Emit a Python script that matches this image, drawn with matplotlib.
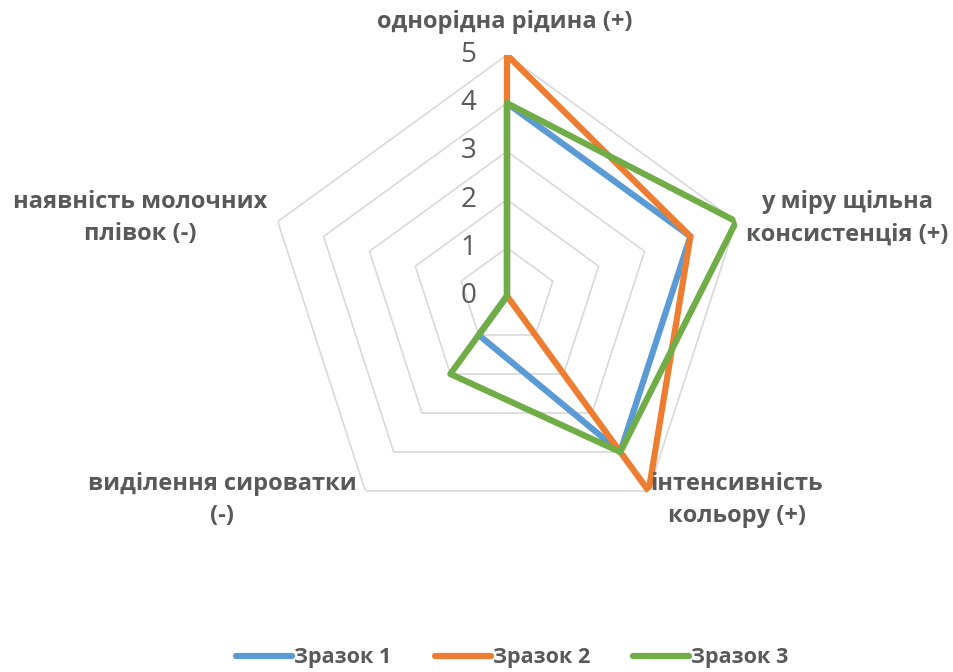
import numpy as np
import matplotlib
matplotlib.use("Agg")
from matplotlib import pyplot as plt

categories = [
    "однорідна рідина (+)",
    "у міру щільна\nконсистенція (+)",
    "інтенсивність\nкольору (+)",
    "виділення сироватки\n(-)",
    "наявність молочних\nплівок (-)",
]
series_names = ["Зразок 1", "Зразок 2", "Зразок 3"]
sample1 = [4, 4, 4, 1, 0]
sample2 = [5, 4, 5, 0, 0]
sample3 = [4, 5, 4, 2, 0]
r_ticks = [0, 1, 2, 3, 4, 5]

colors = ["#5B9BD5", "#ED7D31", "#70AD47"]
text_color = "#595959"
grid_color = "#D9D9D9"

plt.rcParams["font.family"] = ["Open Sans", "DejaVu Sans"]

W, H = 954, 672
cx, cy, R = 507, 296, 241

fig = plt.figure(figsize=(W / 100, H / 100), dpi=100)
ax = fig.add_axes([(cx - R) / W, (H - cy - R) / H, 2 * R / W, 2 * R / H],
                  projection="polar")
ax.set_theta_offset(np.pi / 2)
ax.set_theta_direction(-1)
ax.set_ylim(0, r_ticks[-1])
ax.grid(False)
ax.spines["polar"].set_visible(False)
ax.set_xticks([])
ax.set_yticks([])
ax.patch.set_alpha(0)

n = len(categories)
angles = np.linspace(0, 2 * np.pi, n, endpoint=False)
closed = np.append(angles, angles[0])

# pentagon gridlines
for r in r_ticks[1:]:
    ax.plot(closed, [r] * (n + 1), color=grid_color, lw=1.2, zorder=1)

for vals, name, c in zip([sample1, sample2, sample3], series_names, colors):
    ax.plot(closed, vals + vals[:1], color=c, lw=4.5, label=name,
            solid_joinstyle="round", solid_capstyle="round", zorder=3)

# radial tick labels along the vertical axis
for r in r_ticks:
    ax.annotate(str(r), xy=(0, r), xytext=(-22, 0), textcoords="offset points",
                ha="right", va="center", fontsize=20, color=text_color)

# category labels
label_pos = [(505, 22), (847, 218), (737, 500), (222, 500), (140, 218)]
for lab, (x, y) in zip(categories, label_pos):
    fig.text(x / W, 1 - y / H, lab, ha="center", va="center", fontsize=17,
             fontweight="bold", color=text_color, linespacing=1.45)

fig.legend(loc="center", bbox_to_anchor=(0.537, 1 - 658 / H), ncol=3,
           frameon=False, prop={"weight": "bold", "size": 15.5},
           handlelength=2.6, handletextpad=0.1, columnspacing=2.0,
           labelcolor=text_color)

fig.savefig("out.png", dpi=100, facecolor="white")
